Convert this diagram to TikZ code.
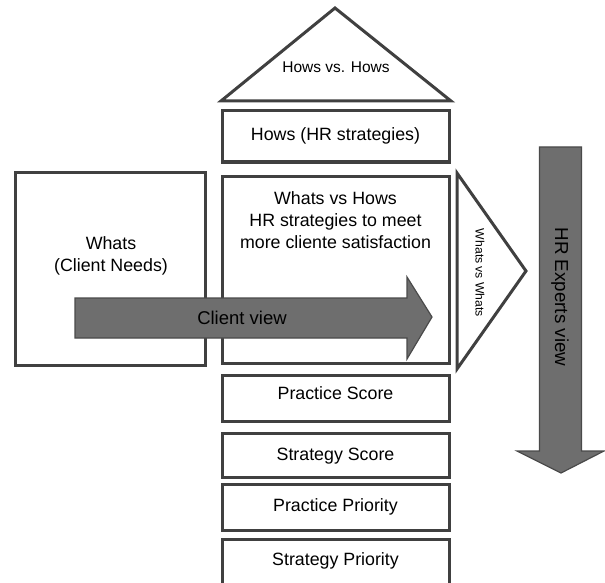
\documentclass[tikz,border=0pt]{standalone}
\usepackage{fontspec}
\setmainfont{Liberation Sans}
\begin{document}
\begin{tikzpicture}[x=1pt,y=-1pt,
  box/.style={draw=boxline,line width=3pt,fill=white},
  shapeline/.style={draw=boxline,line width=3pt,fill=white,line join=miter},
  bigarrow/.style={draw=arrowline,line width=1.2pt,fill=arrowfill,line join=miter},
  txt/.style={inner sep=0pt,font=\fontsize{17.8}{22}\selectfont,align=center},
  smalltxt/.style={inner sep=0pt,font=\fontsize{12.2}{14}\selectfont},
  midtxt/.style={inner sep=0pt,font=\fontsize{15.5}{18}\selectfont},
  bigtxt/.style={inner sep=0pt,font=\fontsize{18.8}{22}\selectfont}]
\definecolor{boxline}{HTML}{404040}
\definecolor{arrowline}{HTML}{4A4A4A}
\definecolor{arrowfill}{HTML}{6E6E6E}
\useasboundingbox (0,0) rectangle (605,583);
\clip (0,0) rectangle (605,583);
% roof
\draw[shapeline] (335,8) -- (451,101) -- (221,101) -- cycle;
\node[midtxt] (hvh) at (336,67) {Hows vs. Hows};
% hows
\draw[box] (222,111) rectangle (449,162);
\node[txt] (hows) at (335.5,136) {Hows (HR strategies)};
% whats
\draw[box] (15,172) rectangle (205,365);
\node[txt] (whats) at (111,256) {Whats\\(Client Needs)};
% main
\draw[box] (222,176) rectangle (449,363);
\node[txt] (wvh) at (335.5,220) {Whats vs Hows\\HR strategies to meet\\more cliente satisfaction};
% whats vs whats
\draw[shapeline] (457,173) -- (526,271) -- (457,369) -- cycle;
\node[smalltxt,rotate=-90] (wvw) at (480,273) {Whats vs Whats};
% HR experts arrow
\draw[bigarrow] (539.5,147) -- (581.5,147) -- (581.5,451) -- (604,451) -- (561,473) -- (517,451) -- (539.5,451) -- cycle;
\node[bigtxt,rotate=-90] (hre) at (560,297) {HR Experts view};
% client arrow
\draw[bigarrow] (75,298) -- (407,298) -- (407,277) -- (432,317) -- (407,359) -- (407,338) -- (75,338) -- cycle;
\node[txt,font=\fontsize{18.5}{22}\selectfont] (cv) at (242,318) {Client view};
% bottom boxes
\draw[box] (222,375) rectangle (449,421);
\node[txt] (ps) at (335.5,393) {Practice Score};
\draw[box] (222,433) rectangle (449,477);
\node[txt] (ss) at (335.5,456) {Strategy Score};
\draw[box] (222,484) rectangle (449,530);
\node[txt] (pp) at (335.5,507) {Practice Priority};
\draw[box] (222,539) rectangle (449,600);
\node[txt] (sp) at (335.5,561) {Strategy Priority};
\end{tikzpicture}
\end{document}
